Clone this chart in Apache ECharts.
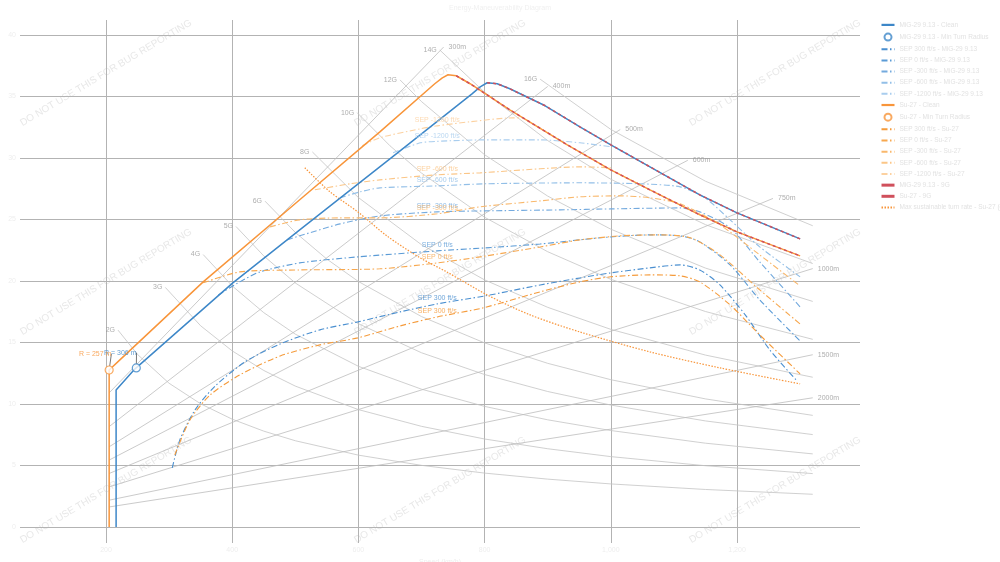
<!DOCTYPE html>
<html>
<head>
<meta charset="utf-8">
<script src="https://cdn.jsdelivr.net/npm/echarts@6/dist/echarts.min.js"></script>
<style>
html,body{margin:0;padding:0;background:#fff;}
#chart{width:1000px;height:562px;}
</style>
</head>
<body>
<div id="chart"></div>
<script>
// speed (km/h), turn rate (deg/s)
var migClean = [[216,0],[216,11.14],[246,12.85],[401,19.84],[507,24.15],[666,30.57],[780,35.2],[793,35.77],[804,36.1],[820,36.02],[840,35.61],[896,34.23],[951,32.52],[1000,31.06],[1062,29.27],[1141,26.99],[1200,25.53],[1300,23.41]];
var suClean = [[205,0],[205,12.76],[222,13.58],[354,19.92],[507,26.59],[634,32.11],[721,36.02],[733,36.5],[742,36.75],[755,36.67],[777,36.02],[840,33.9],[931,31.06],[1000,29.02],[1062,27.4],[1141,25.37],[1200,23.98],[1300,22.03]];
var migMinR = [248, 12.93];
var suMinR = [205, 12.76];

var migSep300 = [[305,4.8],[317,7.07],[341,9.51],[373,11.46],[420,13.41],[476,14.88],[539,16.02],[599,16.67],[666,17.48],[725,18.13],[801,18.78],[888,19.67],[951,20.24],[1000,20.65],[1062,21.06],[1110,21.3],[1141,20.89],[1173,19.67],[1213,17.24],[1252,14.39],[1295,11.87]];
var migSep0 = [[378,18.86],[412,19.92],[444,20.73],[507,21.46],[599,21.95],[725,22.44],[801,22.68],[888,23.0],[983,23.5],[1062,23.74],[1110,23.66],[1141,23.17],[1189,21.3],[1236,18.46],[1300,15.12]];
var migSepM300 = [[487,23.33],[507,23.66],[571,24.63],[634,25.28],[725,25.61],[801,25.69],[920,25.77],[1000,25.85],[1110,25.93],[1141,25.61],[1189,24.31],[1236,21.54],[1300,17.89]];
var migSepM600 = [[571,26.75],[603,27.24],[634,27.56],[725,27.72],[801,27.89],[951,27.97],[1046,27.89],[1110,27.64],[1149,26.75],[1189,24.96],[1236,22.76],[1300,20.33]];
var migSepM1200 = [[655,30.41],[698,31.22],[725,31.34],[801,31.46],[888,31.46],[951,31.22],[1002,30.89]];

var suSep300 = [[309,5.85],[333,8.7],[365,10.73],[412,12.36],[476,13.9],[539,14.8],[599,15.37],[666,16.34],[725,17.07],[797,17.8],[888,19.11],[951,19.92],[1000,20.33],[1062,20.49],[1110,20.41],[1141,19.92],[1189,18.05],[1236,15.61],[1300,12.44]];
var suSep0 = [[354,19.84],[412,20.73],[507,20.89],[634,20.98],[725,21.46],[793,21.95],[888,22.76],[951,23.33],[1015,23.66],[1078,23.74],[1126,23.5],[1173,22.11],[1236,19.27],[1300,16.5]];
var suSepM300 = [[460,24.39],[507,24.96],[571,25.12],[634,25.12],[725,25.45],[793,26.02],[888,26.5],[951,26.83],[1015,26.91],[1062,26.75],[1110,26.26],[1173,24.55],[1236,22.11],[1300,19.59]];
var suSepM600 = [[531,27.4],[587,27.89],[634,28.21],[725,28.62],[793,28.78],[888,29.11],[951,29.27],[1000,29.19]];
var suSepM1200 = [[606,30.98],[634,31.63],[698,32.36],[725,32.6],[777,32.93],[845,33.25],[859,33.25]];

var suSustained = [[515,29.19],[555,27.24],[599,25.61],[645,23.66],[698,21.87],[740,20.73],[804,18.86],[872,17.24],[951,15.85],[1062,14.23],[1173,12.93],[1300,11.63]];

var gNames = ['2G','3G','4G','5G','6G','8G','10G','12G','14G','16G'];
var gLines = [
  [[219,16.0],[250,14.02],[300,11.68],[350,10.01],[400,8.76],[450,7.79],[500,7.01],[600,5.84],[700,5.01],[800,4.38],[900,3.89],[1000,3.5],[1150,3.05],[1320,2.66]],
  [[294,19.47],[350,16.35],[400,14.31],[450,12.72],[500,11.45],[600,9.54],[700,8.18],[800,7.15],[900,6.36],[1000,5.72],[1150,4.98],[1320,4.34]],
  [[354,22.14],[400,19.59],[450,17.42],[500,15.67],[600,13.06],[700,11.2],[800,9.8],[900,8.71],[1000,7.84],[1150,6.81],[1320,5.94]],
  [[406,24.42],[450,22.03],[500,19.83],[600,16.52],[700,14.16],[800,12.39],[900,11.01],[1000,9.91],[1150,8.62],[1320,7.51]],
  [[452,26.48],[500,23.94],[550,21.77],[600,19.95],[700,17.1],[800,14.96],[900,13.3],[1000,11.97],[1150,10.41],[1320,9.07]],
  [[527,30.48],[600,26.77],[700,22.94],[800,20.08],[900,17.85],[1000,16.06],[1150,13.97],[1320,12.17]],
  [[598,33.67],[650,30.98],[700,28.76],[800,25.17],[900,22.37],[1000,20.13],[1150,17.51],[1320,15.25]],
  [[666,36.33],[700,34.57],[800,30.25],[900,26.89],[1000,24.2],[1150,21.04],[1320,18.33]],
  [[729,38.76],[800,35.32],[900,31.4],[1000,28.26],[1150,24.57],[1320,21.41]],
  [[888,36.39],[1000,32.31],[1150,28.1],[1320,24.48]]
];
var radiusNames = ['300m','400m','500m','600m','750m','1000m','1500m','2000m'];
var radiusLines = [
  [[205,10.9],[735,39.0]],
  [[205,8.16],[900,35.8]],
  [[205,6.52],[1015,32.3]],
  [[205,5.44],[1122,29.8]],
  [[205,4.35],[1257,26.7]],
  [[205,3.26],[1320,21.0]],
  [[205,2.18],[1320,14.0]],
  [[205,1.63],[1320,10.5]]
];

var BLUE = '#3d87c8', ORANGE = '#f8953a', RED = '#d0505c';
var DASHDOT = [6, 2.5, 1.5, 2.5];
var SEP_LABEL_V = 725;

var chart = echarts.init(document.getElementById('chart'));

// invisible point that only carries a text label
function labelAt(p, text, pos, color, dist) {
  return {
    type: 'scatter', data: [p], symbol: 'circle', symbolSize: 0, silent: true, z: 5,
    label: { show: true, formatter: text, position: pos, distance: dist, color: color, fontSize: 7 }
  };
}
function nearest(arr, v) {
  var best = 0;
  arr.forEach(function (p, i) { if (Math.abs(p[0] - v) < Math.abs(arr[best][0] - v)) best = i; });
  return arr[best];
}

var series = [];

gLines.forEach(function (d, i) {
  series.push({ type: 'line', data: d, symbol: 'none', silent: true, lineStyle: { color: '#c4c4c4', width: 0.8 }, z: 1 });
  series.push(labelAt(d[0], gNames[i], 'left', '#999', 3));
});
radiusLines.forEach(function (d, i) {
  series.push({ type: 'line', data: d, symbol: 'none', silent: true, lineStyle: { color: '#bdbdbd', width: 0.8 }, z: 1 });
  series.push(labelAt(d[d.length - 1], radiusNames[i], 'right', '#999', 5));
});

function sep(name, d, color, text) {
  series.push({
    name: name, type: 'line', data: d, smooth: 0.25, symbol: 'none', silent: true,
    itemStyle: { color: color }, lineStyle: { color: color, width: 1.1, type: DASHDOT }, z: 2
  });
  series.push(labelAt(nearest(d, SEP_LABEL_V), text, 'top', color, 2));
}

series.push({ name: 'MiG-29 9.13 - Clean', type: 'line', data: migClean, symbol: 'none', silent: true, itemStyle: { color: BLUE }, lineStyle: { color: BLUE, width: 1.5 }, z: 3 });
series.push({
  name: 'MiG-29 9.13 - Min Turn Radius', type: 'scatter', data: [migMinR], symbol: 'circle', symbolSize: 8, silent: true,
  itemStyle: { color: '#fff', borderColor: BLUE, borderWidth: 1.2 },
  label: { show: true, formatter: 'R = 306 m', position: 'top', color: BLUE, fontSize: 7 },
  labelLayout: { dx: -16, dy: -2 }, labelLine: { show: true, lineStyle: { color: '#555', width: 0.8 } }, z: 6
});
sep('SEP 300 ft/s - MiG-29 9.13', migSep300, '#4a8fd0', 'SEP 300 ft/s');
sep('SEP 0 ft/s - MiG-29 9.13', migSep0, '#5b9bd6', 'SEP 0 ft/s');
sep('SEP -300 ft/s - MiG-29 9.13', migSepM300, '#74aade', 'SEP -300 ft/s');
sep('SEP -600 ft/s - MiG-29 9.13', migSepM600, '#92bfe7', 'SEP -600 ft/s');
sep('SEP -1200 ft/s - MiG-29 9.13', migSepM1200, '#a9cdee', 'SEP -1200 ft/s');

series.push({ name: 'Su-27 - Clean', type: 'line', data: suClean, symbol: 'none', silent: true, itemStyle: { color: ORANGE }, lineStyle: { color: ORANGE, width: 1.5 }, z: 3 });
series.push({
  name: 'Su-27 - Min Turn Radius', type: 'scatter', data: [suMinR], symbol: 'circle', symbolSize: 8, silent: true,
  itemStyle: { color: '#fff', borderColor: ORANGE, borderWidth: 1.2 },
  label: { show: true, formatter: 'R = 257 m', position: 'top', color: ORANGE, fontSize: 7 },
  labelLayout: { dx: -14, dy: -3 }, labelLine: { show: true, lineStyle: { color: '#555', width: 0.8 } }, z: 6
});
sep('SEP 300 ft/s - Su-27', suSep300, '#f59b3b', 'SEP 300 ft/s');
sep('SEP 0 ft/s - Su-27', suSep0, '#f7a84f', 'SEP 0 ft/s');
sep('SEP -300 ft/s - Su-27', suSepM300, '#f9b86c', 'SEP -300 ft/s');
sep('SEP -600 ft/s - Su-27', suSepM600, '#fbc687', 'SEP -600 ft/s');
sep('SEP -1200 ft/s - Su-27', suSepM1200, '#fcd1a0', 'SEP -1200 ft/s');

series.push({ name: 'MiG-29 9.13 - 9G', type: 'line', data: migClean.slice(8), symbol: 'none', silent: true, itemStyle: { color: RED }, lineStyle: { color: RED, width: 1.5, type: [3, 3] }, z: 4 });
series.push({ name: 'Su-27 - 9G', type: 'line', data: suClean.slice(9), symbol: 'none', silent: true, itemStyle: { color: RED }, lineStyle: { color: RED, width: 1.5, type: [3, 3] }, z: 4 });
series.push({ name: 'Max sustainable turn rate - Su-27 (clean)', type: 'line', data: suSustained, smooth: 0.3, symbol: 'none', silent: true, itemStyle: { color: ORANGE }, lineStyle: { color: ORANGE, width: 1.2, type: [1.5, 1.5] }, z: 2 });

var legendOrder = ['MiG-29 9.13 - Clean','MiG-29 9.13 - Min Turn Radius','SEP 300 ft/s - MiG-29 9.13','SEP 0 ft/s - MiG-29 9.13','SEP -300 ft/s - MiG-29 9.13','SEP -600 ft/s - MiG-29 9.13','SEP -1200 ft/s - MiG-29 9.13','Su-27 - Clean','Su-27 - Min Turn Radius','SEP 300 ft/s - Su-27','SEP 0 ft/s - Su-27','SEP -300 ft/s - Su-27','SEP -600 ft/s - Su-27','SEP -1200 ft/s - Su-27','MiG-29 9.13 - 9G','Su-27 - 9G','Max sustainable turn rate - Su-27 (clean)'];
var legendData = legendOrder.map(function (n) {
  if (n.indexOf('Min Turn') > 0) return n;
  var item = { name: n, itemStyle: { opacity: 0, borderWidth: 0 } };
  if (n.indexOf('Clean') > 0) item.lineStyle = { width: 2.2 };
  if (n.indexOf('9G') > 0) item.lineStyle = { type: 'solid', width: 3 };
  return item;
});

var marks = [];
[106, 440, 775].forEach(function (x) {
  [73, 282, 490].forEach(function (y) {
    marks.push({
      type: 'text', x: x, y: y, rotation: 0.54, z: 0, silent: true,
      style: { text: 'DO NOT USE THIS FOR BUG REPORTING', fill: '#e8e8e8', font: '10px sans-serif', align: 'center', verticalAlign: 'middle' }
    });
  });
});

chart.setOption({
  animation: false,
  title: { text: 'Energy-Maneuverability Diagram', left: 'center', top: 0, textStyle: { color: '#f0f0f0', fontSize: 7, fontWeight: 'normal' } },
  grid: { left: 20, right: 140, top: 20, bottom: 19, outerBoundsMode: 'none', containLabel: false },
  legend: {
    orient: 'vertical', left: 880, top: 21.4, padding: 0, itemWidth: 13, itemHeight: 7, itemGap: 4.16,
    textStyle: { color: '#e2e2e2', fontSize: 6.5, lineHeight: 7 },
    data: legendData
  },
  graphic: marks,
  xAxis: {
    type: 'value', min: 63.7, max: 1394.9, splitNumber: 7,
    name: 'Speed (km/h)', nameLocation: 'middle', nameGap: 12, nameTextStyle: { color: '#eeeeee', fontSize: 7 },
    axisLine: { show: false }, axisTick: { show: false },
    axisLabel: { color: '#eeeeee', fontSize: 7, margin: 4, showMinLabel: false, showMaxLabel: false },
    splitLine: { show: true, showMinLine: false, showMaxLine: false, lineStyle: { color: '#b3b3b3', width: 1 } }
  },
  yAxis: {
    type: 'value', min: -1.3, max: 41.2, splitNumber: 8,
    name: 'Turn rate (deg/s)', nameLocation: 'middle', nameGap: 12, nameTextStyle: { color: '#eeeeee', fontSize: 7 },
    axisLine: { show: false }, axisTick: { show: false },
    axisLabel: { color: '#eeeeee', fontSize: 7, margin: 4, showMinLabel: false, showMaxLabel: false },
    splitLine: { show: true, showMinLine: false, showMaxLine: false, lineStyle: { color: '#b3b3b3', width: 1 } }
  },
  series: series
});
</script>
</body>
</html>
